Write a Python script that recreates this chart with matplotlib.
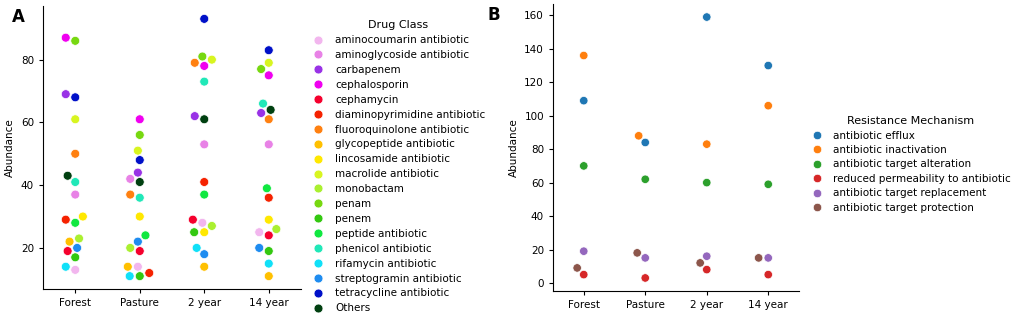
import matplotlib
matplotlib.use("Agg")
import matplotlib.pyplot as plt
import seaborn as sns
import pandas as pd

sites = ["Forest", "Pasture", "2 year", "14 year"]

drug_classes = ["aminocoumarin antibiotic", "aminoglycoside antibiotic", "carbapenem",
                "cephalosporin", "cephamycin", "diaminopyrimidine antibiotic",
                "fluoroquinolone antibiotic", "glycopeptide antibiotic", "lincosamide antibiotic",
                "macrolide antibiotic", "monobactam", "penam", "penem", "peptide antibiotic",
                "phenicol antibiotic", "rifamycin antibiotic", "streptogramin antibiotic",
                "tetracycline antibiotic", "Others"]
drug_colors = ["#f2b6ee", "#e882e6", "#9932e6", "#f000f0", "#f5002d", "#f52200",
               "#ff8010", "#ffc000", "#ffe800", "#d8f520", "#aaf030", "#77d810",
               "#33c810", "#10e840", "#20e8b8", "#10e0f8", "#1e8cf0", "#0010c8", "#004010"]

# abundance per drug class (same order as drug_classes)
drug_forest = [13, 37, 69, 87, 19, 29, 50, 22, 30, 61, 23, 86, 17, 28, 41, 14, 20, 68, 43]
drug_pasture = [14, 42, 44, 61, 19, 12, 37, 14, 30, 51, 20, 56, 11, 24, 36, 11, 22, 48, 41]
drug_2year = [28, 53, 62, 78, 29, 41, 79, 14, 25, 80, 27, 81, 25, 37, 73, 20, 18, 93, 61]
drug_14year = [25, 53, 63, 75, 24, 36, 61, 11, 29, 79, 26, 77, 19, 39, 66, 15, 20, 83, 64]

mechanisms = ["antibiotic efflux", "antibiotic inactivation", "antibiotic target alteration",
              "reduced permeability to antibiotic", "antibiotic target replacement",
              "antibiotic target protection"]
mech_colors = ["#1f77b4", "#ff7f0e", "#2ca02c", "#d62728", "#9467bd", "#8c564b"]
mech_forest = [109, 136, 70, 5, 19, 9]
mech_pasture = [84, 88, 62, 3, 15, 18]
mech_2year = [159, 83, 60, 8, 16, 12]
mech_14year = [130, 106, 59, 5, 15, 15]

rows_a = []
for site, vals in zip(sites, [drug_forest, drug_pasture, drug_2year, drug_14year]):
    for dc, v in zip(drug_classes, vals):
        rows_a.append({"site": site, "Abundance": v, "Drug Class": dc})
df_a = pd.DataFrame(rows_a)

rows_b = []
for site, vals in zip(sites, [mech_forest, mech_pasture, mech_2year, mech_14year]):
    for m, v in zip(mechanisms, vals):
        rows_b.append({"site": site, "Abundance": v, "Resistance Mechanism": m})
df_b = pd.DataFrame(rows_b)

plt.rcParams["font.family"] = ["DejaVu Sans"]
plt.rcParams["font.size"] = 7.5

fig = plt.figure(figsize=(10.21, 3.22), dpi=100)
W, H = 1021, 322
axA = fig.add_axes([43 / W, 1 - 289 / H, (301 - 43) / W, (289 - 6) / H])
axB = fig.add_axes([553 / W, 1 - 291 / H, (799 - 553) / W, (291 - 4) / H])

sns.swarmplot(data=df_a, x="site", y="Abundance", hue="Drug Class", order=sites,
              hue_order=drug_classes, palette=drug_colors, size=6.4, linewidth=0.5,
              edgecolor="white", ax=axA)
sns.swarmplot(data=df_b, x="site", y="Abundance", hue="Resistance Mechanism", order=sites,
              hue_order=mechanisms, palette=mech_colors, size=6.1, linewidth=0.5,
              edgecolor="white", ax=axB)

for ax in (axA, axB):
    ax.spines["top"].set_visible(False)
    ax.spines["right"].set_visible(False)
    ax.set_xlabel("")
    ax.set_ylabel("Abundance", fontsize=7.5)
    ax.tick_params(labelsize=7.5, length=3)

axA.set_yticks([20, 40, 60, 80])
axB.set_yticks([0, 20, 40, 60, 80, 100, 120, 140, 160])

sns.move_legend(axA, "upper left", bbox_to_anchor=(304 / W, 1 - 13 / H),
                bbox_transform=fig.transFigure, frameon=False, title="Drug Class",
                fontsize=7.5, title_fontsize=8, labelspacing=0.47, handletextpad=1.1,
                handlelength=1.2, borderpad=0.2)
sns.move_legend(axB, "upper left", bbox_to_anchor=(803 / W, 1 - 109 / H),
                bbox_transform=fig.transFigure, frameon=False, title="Resistance Mechanism",
                fontsize=7.5, title_fontsize=8, labelspacing=0.42, handletextpad=1.0,
                handlelength=1.2, borderpad=0.2)

fig.text(12 / W, 1 - 17 / H, "A", fontsize=12, fontweight="bold", va="center", ha="left")
fig.text(487 / W, 1 - 15 / H, "B", fontsize=12, fontweight="bold", va="center", ha="left")

fig.savefig("out.png", dpi=100)
